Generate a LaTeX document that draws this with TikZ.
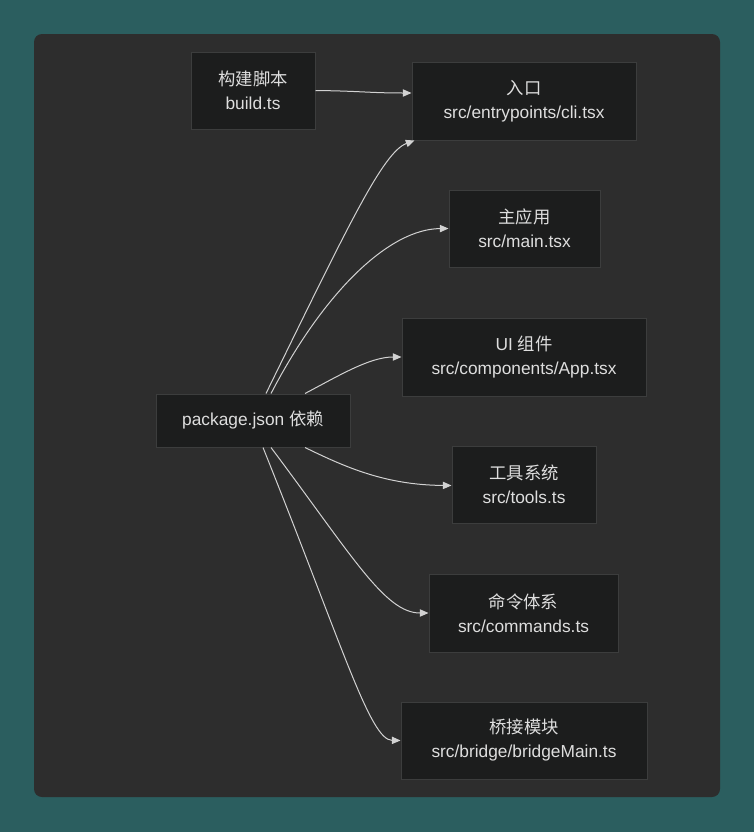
\documentclass[tikz,border=0pt]{standalone}
\usepackage{fontspec}
\setmainfont{Liberation Sans}
\newfontfamily\cjk{Noto Sans CJK SC}
\usepackage{xcolor}
\usepackage{tikz}
\usetikzlibrary{arrows.meta}

\definecolor{tealbg}{HTML}{2B5E5F}
\definecolor{panelbg}{HTML}{2D2D2D}
\definecolor{boxbg}{HTML}{1C1D1D}
\definecolor{boxline}{HTML}{3C3D3D}
\definecolor{textfg}{HTML}{DEDEDE}
\definecolor{linkfg}{HTML}{D2D2D2}

\tikzset{
  modbox/.style={draw=boxline, fill=boxbg, line width=0.75pt, text=textfg,
    align=center, inner sep=0pt, font=\fontsize{13}{18}\selectfont},
  link/.style={draw=linkfg, line width=0.75pt, -{Triangle[length=6.5pt,width=5.5pt]}}
}

\begin{document}
\begin{tikzpicture}[x=0.75pt,y=-0.75pt]
\useasboundingbox (0,0) rectangle (754,832);
\fill[tealbg] (0,0) rectangle (754,832);
\fill[panelbg, rounded corners=6pt] (34,34) rectangle (720,797);

% modules
\node[modbox, minimum width=93pt, minimum height=57.75pt] (build) at (253,90.5) {{\cjk 构建脚本}\\build.ts};
\node[modbox, minimum width=145.5pt, minimum height=39.75pt] (pkg) at (253,420.5) {package.json {\cjk 依赖}};
\node[modbox, minimum width=168pt, minimum height=58.5pt] (entry) at (524,101) {{\cjk 入口}\\src/entrypoints/cli.tsx};
\node[modbox, minimum width=113.25pt, minimum height=57.75pt] (mainapp) at (524.5,228.5) {{\cjk 主应用}\\src/main.tsx};
\node[modbox, minimum width=183pt, minimum height=58.5pt] (ui) at (524,357) {UI {\cjk 组件}\\src/components/App.tsx};
\node[modbox, minimum width=108pt, minimum height=57.75pt] (tools) at (524,484.5) {{\cjk 工具系统}\\src/tools.ts};
\node[modbox, minimum width=141.75pt, minimum height=58.5pt] (cmds) at (523.5,613) {{\cjk 命令体系}\\src/commands.ts};
\node[modbox, minimum width=184.5pt, minimum height=57.75pt] (bridge) at (524,740.5) {{\cjk 桥接模块}\\src/bridge/bridgeMain.ts};

% links
\draw[link] (build.east) .. controls (360,91) and (370,93) .. ([yshift=6pt]entry.west);
\draw[link] ([xshift=9.75pt]pkg.north) .. controls (348,226) and (383,152) .. ([xshift=2.25pt]entry.south west);
\draw[link] ([xshift=13.5pt]pkg.north) .. controls (325,290) and (390,229) .. (mainapp.west);
\draw[link] ([xshift=39pt]pkg.north) .. controls (340,375) and (370,357) .. (ui.west);
\draw[link] ([xshift=39pt]pkg.south) .. controls (345,467) and (385,485) .. ([yshift=-0.75pt]tools.west);
\draw[link] ([xshift=13.5pt]pkg.south) .. controls (353,557) and (385,613) .. (cmds.west);
\draw[link] ([xshift=7.5pt]pkg.south) .. controls (343,647) and (370,740) .. (bridge.west);
\end{tikzpicture}
\end{document}
